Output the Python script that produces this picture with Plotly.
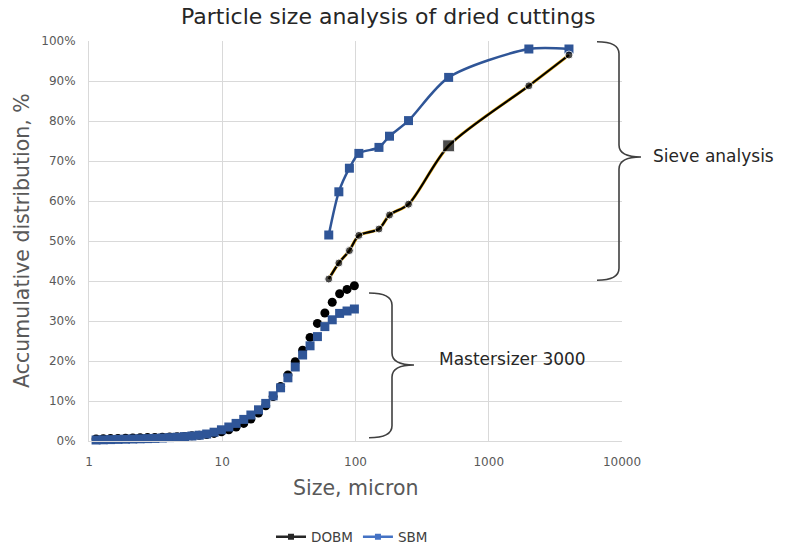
import plotly.graph_objects as go

# ---------------- data ----------------
# Mastersizer 3000 size classes (micron)
ms_size = [0.991, 1.13, 1.28, 1.45, 1.65, 1.88, 2.13, 2.42, 2.75, 3.12, 3.55, 4.03,
           4.58, 5.21, 5.92, 6.72, 7.64, 8.68, 9.86, 11.2, 12.7, 14.5, 16.4, 18.7,
           21.2, 24.1, 27.4, 31.1, 35.3, 40.1, 45.6, 51.8, 58.9, 66.9, 76.0, 86.4, 98.1]
ms_dobm = [0.4, 0.5, 0.55, 0.6, 0.65, 0.7, 0.75, 0.8, 0.85, 0.9, 0.95, 1.0,
           1.05, 1.15, 1.3, 1.45, 1.6, 1.9, 2.3, 2.8, 3.5, 4.4, 5.5, 7.0,
           8.8, 11.1, 13.6, 16.5, 19.8, 22.7, 25.9, 29.4, 32.0, 34.7, 36.8, 37.9, 38.8]
ms_sbm = [0.2, 0.25, 0.3, 0.35, 0.4, 0.45, 0.5, 0.55, 0.6, 0.65, 0.75, 0.85,
          0.95, 1.1, 1.25, 1.45, 1.75, 2.2, 2.8, 3.5, 4.4, 5.4, 6.5, 7.8,
          9.4, 11.3, 13.3, 15.8, 18.5, 21.5, 23.8, 26.1, 28.6, 30.3, 31.9, 32.5, 33.0]

# Sieve analysis (micron)
sieve_size = [63, 75, 90, 106, 150, 180, 250, 500, 2000, 4000]
sieve_dobm = [40.5, 44.5, 47.6, 51.4, 53.0, 56.5, 59.2, 73.8, 88.8, 96.5]
sieve_sbm = [51.5, 62.3, 68.2, 71.9, 73.4, 76.2, 80.1, 90.9, 98.0, 98.0]

x_ticks = [1, 10, 100, 1000, 10000]
x_ticktext = ["1", "10", "100", "1000", "10000"]
y_ticks = [0, 10, 20, 30, 40, 50, 60, 70, 80, 90, 100]
y_ticktext = ["0%", "10%", "20%", "30%", "40%", "50%", "60%", "70%", "80%", "90%", "100%"]

series_names = ["DOBM", "SBM"]

# ---------------- styles ----------------
FONT = "DejaVu Sans"
BLUE = "#2F5597"
BLUE_LEG = "#4472C4"
BLACK = "#000000"
GOLD = "#E8B020"
GRID = "#D9D9D9"
TXT = "#595959"

fig = go.Figure()

# Mastersizer data
fig.add_trace(go.Scatter(x=ms_size, y=ms_dobm, mode="markers", showlegend=False,
                         marker=dict(symbol="circle", size=9, color=BLACK),
                         cliponaxis=False, hoverinfo="x+y"))
fig.add_trace(go.Scatter(x=ms_size, y=ms_sbm, mode="markers", showlegend=False,
                         marker=dict(symbol="square", size=9, color=BLUE),
                         cliponaxis=False, hoverinfo="x+y"))

# Sieve SBM
fig.add_trace(go.Scatter(x=sieve_size, y=sieve_sbm, mode="lines+markers", showlegend=False,
                         line=dict(color=BLUE, width=2.5, shape="spline", smoothing=0.8),
                         marker=dict(symbol="square", size=9, color=BLUE)))
# Sieve DOBM: thin gold edge under black line
fig.add_trace(go.Scatter(x=sieve_size, y=sieve_dobm, mode="lines", showlegend=False,
                         line=dict(color=GOLD, width=3.2, shape="spline", smoothing=0.8),
                         hoverinfo="skip"))
fig.add_trace(go.Scatter(x=sieve_size, y=sieve_dobm, mode="lines+markers", showlegend=False,
                         line=dict(color=BLACK, width=2.2, shape="spline", smoothing=0.8),
                         marker=dict(symbol=["circle"] * 7 + ["square"] + ["circle"] * 2,
                                     size=[8] * 7 + [12] + [8] * 2, color=BLACK)))

# legend entries
fig.add_trace(go.Scatter(x=[None], y=[None], mode="lines+markers", name=series_names[0],
                         line=dict(color="#262626", width=2.5),
                         marker=dict(symbol="square", size=6, color="#262626")))
fig.add_trace(go.Scatter(x=[None], y=[None], mode="lines+markers", name=series_names[1],
                         line=dict(color=BLUE_LEG, width=2.5),
                         marker=dict(symbol="square", size=6, color=BLUE_LEG)))

L, R, T, B = 89, 174, 41, 109
W, H = 796, 550
pw = W - L - R


def px2paper(px):
    return (px - L) / pw


def brace(x0, x1, x2, ytop, ybot, ymid, ry):
    # right curly brace, x in paper, y in data units
    return (f"M {x0},{ytop} Q {x1},{ytop} {x1},{ytop - ry} "
            f"L {x1},{ymid + ry} Q {x1},{ymid} {x2},{ymid} "
            f"Q {x1},{ymid} {x1},{ymid - ry} "
            f"L {x1},{ybot + ry} Q {x1},{ybot} {x0},{ybot}")


shapes = [
    dict(type="path", xref="paper", yref="y",
         path=brace(px2paper(597), px2paper(619), px2paper(641), 99.8, 40.2, 71.0, 3.0),
         line=dict(color="#404040", width=1.6)),
    dict(type="path", xref="paper", yref="y",
         path=brace(px2paper(369), px2paper(392), px2paper(414), 37.0, 0.8, 19.0, 3.0),
         line=dict(color="#404040", width=1.6)),
]

annotations = [
    dict(text="Particle size analysis of dried cuttings", xref="paper", yref="paper",
         x=px2paper(388), y=1 + (T - 16) / 400, xanchor="center", yanchor="middle",
         showarrow=False, font=dict(family=FONT, size=22, color="#262626")),
    dict(text="Accumulative distribution, %", xref="paper", yref="paper",
         x=-(L - 22) / pw, y=0.5, xanchor="center", yanchor="middle", textangle=-90,
         showarrow=False, font=dict(family=FONT, size=20.5, color=TXT)),
    dict(text="Size, micron", xref="paper", yref="paper",
         x=0.5, y=-(488 - 441) / 400, xanchor="center", yanchor="middle",
         showarrow=False, font=dict(family=FONT, size=20.5, color=TXT)),
    dict(text="Sieve analysis", xref="paper", yref="y",
         x=px2paper(651), y=71.3, xanchor="left", yanchor="middle",
         showarrow=False, font=dict(family=FONT, size=17, color="#262626")),
    dict(text="Mastersizer 3000", xref="paper", yref="y",
         x=px2paper(437), y=20.5, xanchor="left", yanchor="middle",
         showarrow=False, font=dict(family=FONT, size=17, color="#262626")),
]

fig.update_layout(
    width=W, height=H,
    margin=dict(l=L, r=R, t=T, b=B, autoexpand=False),
    paper_bgcolor="white", plot_bgcolor="white",
    font=dict(family=FONT, color=TXT),
    shapes=shapes, annotations=annotations,
    showlegend=True,
    legend=dict(orientation="h", xref="container", yref="container",
                x=352 / W, y=(H - 537) / H, xanchor="center", yanchor="middle",
                font=dict(family=FONT, size=13.5, color="#404040"),
                itemwidth=30, tracegroupgap=0, bgcolor="rgba(0,0,0,0)"),
    xaxis=dict(type="log", range=[0, 4], tickvals=x_ticks, ticktext=x_ticktext,
               showgrid=True, gridcolor=GRID, gridwidth=1,
               showline=True, linecolor=GRID, linewidth=1,
               zeroline=False, ticks="", ticklabelstandoff=10, automargin=False,
               tickfont=dict(family=FONT, size=12, color=TXT)),
    yaxis=dict(range=[0, 100], tickvals=y_ticks, ticktext=y_ticktext,
               showgrid=True, gridcolor=GRID, gridwidth=1,
               showline=True, linecolor=GRID, linewidth=1,
               zeroline=False, ticks="", ticklabelstandoff=10, automargin=False,
               tickfont=dict(family=FONT, size=12, color=TXT)),
)

fig.write_html("out.html")
